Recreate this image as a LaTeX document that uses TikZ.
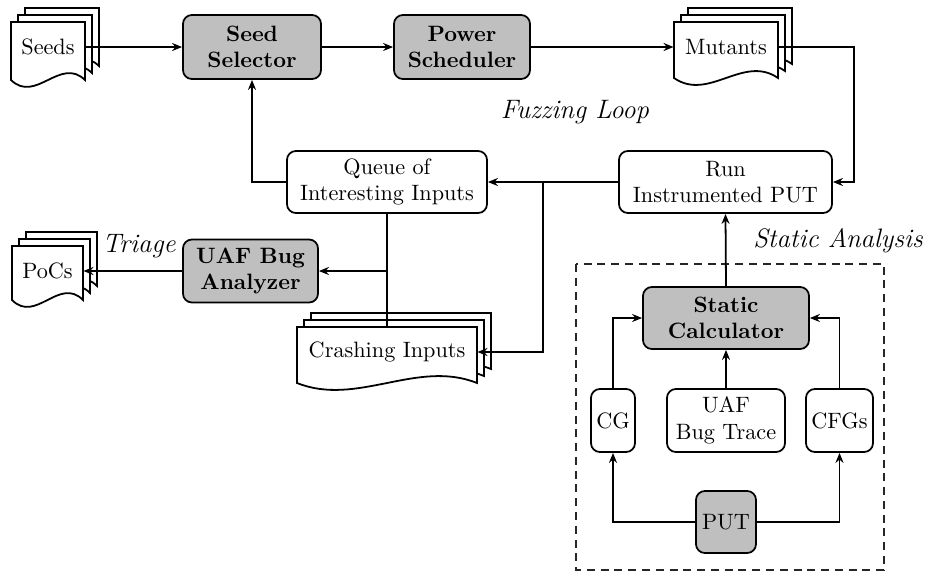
\documentclass[tikz,border=0pt]{standalone}
\usetikzlibrary{arrows.meta}
\newcommand\pxu{0.45pt}
% one page of a document stack: left, top, width, height (px units)
\newcommand\docpage[4]{%
  \filldraw[pageline] ({#1},{#2}) -- ({#1+#3},{#2}) -- ({#1+#3},{#2+#4})
    .. controls ({#1+#3*2/3},{#2+#4-24}) and ({#1+#3/3},{#2+#4+24}) .. ({#1},{#2+#4}) -- cycle;}
\newcommand\docstack[4]{%
  \docpage{#1+14}{#2-14}{#3}{#4}%
  \docpage{#1+7}{#2-7}{#3}{#4}%
  \docpage{#1}{#2}{#3}{#4}}
\tikzset{
  pageline/.style={draw=black, fill=white, line width=0.8pt},
  box/.style={draw, line width=0.8pt, rounded corners=4pt, align=center,
    inner sep=2pt, fill=white},
  gbox/.style={box, fill=gray!50, font=\bfseries},
  doc/.style={inner sep=0pt, align=center, minimum height=50*\pxu},
  arr/.style={line width=0.8pt, -{Stealth[length=4.5pt,width=3.6pt]}},
  ln/.style={line width=0.8pt},
  lbl/.style={font=\itshape\large}
}
\begin{document}
\begin{tikzpicture}[x=\pxu, y=-\pxu]
\useasboundingbox (0,0) rectangle (928,572);

% document stacks
\docstack{11}{22}{74}{58}
\node[doc, minimum width=74*\pxu] (seeds) at (48,47) {Seeds};
\docstack{674}{22}{104}{56}
\node[doc, minimum width=104*\pxu] (mut) at (726,47) {Mutants};
\docstack{297}{327}{180}{56}
\node[doc, minimum width=180*\pxu] (crash) at (387,352) {Crashing Inputs};
\docstack{12}{246}{71}{54}
\node[doc, minimum width=71*\pxu] (pocs) at (47.5,271) {PoCs};

% fuzzing loop
\node[gbox, minimum width=138*\pxu, minimum height=64*\pxu] (sel) at (252,47) {Seed\\Selector};
\node[gbox, minimum width=136*\pxu, minimum height=64*\pxu] (pow) at (462,47) {Power\\Scheduler};
\node[box, minimum width=213*\pxu, minimum height=62*\pxu] (run) at (725.5,182) {Run\\Instrumented PUT};
\node[box, minimum width=200*\pxu, minimum height=62*\pxu] (queue) at (387,182) {Queue of\\Interesting Inputs};
\node[gbox, minimum width=135*\pxu, minimum height=63*\pxu] (uaf) at (250.5,271) {UAF Bug\\Analyzer};

% static analysis
\draw[line width=0.5pt, black!85, dash pattern=on 3.6pt off 2.6pt] (576,264) rectangle (884,570);
\node[gbox, minimum width=166*\pxu, minimum height=62*\pxu] (calc) at (726,318) {Static\\Calculator};
\node[box, minimum width=44*\pxu, minimum height=63*\pxu] (cg) at (613,420.5) {CG};
\node[box, minimum width=118*\pxu, minimum height=63*\pxu] (trace) at (726,420.5) {UAF\\Bug Trace};
\node[box, minimum width=67*\pxu, minimum height=63*\pxu] (cfg) at (839.5,420.5) {CFGs};
\node[box, fill=gray!50, minimum width=60*\pxu, minimum height=62*\pxu] (put) at (726,522) {PUT};

% labels
\node[lbl] (fl) at (575,112) {Fuzzing Loop};
\node[lbl] (sa) at (838,241) {Static Analysis};
\node[lbl] (tr) at (139,246) {Triage};

% connectors
\coordinate (mturn) at (854,182);
\coordinate (split) at (543,182);
\coordinate (branch) at (387,271);
\draw[arr] (seeds.east) -- (sel.west);
\draw[arr] (sel.east) -- (pow.west);
\draw[arr] (pow.east) -- (mut.west);
\draw[arr] (mut.east) -| (mturn) -- (run.east);
\draw[arr] (run.west) -- (queue.east);
\draw[arr] (split) |- (crash.east);
\draw[arr] (queue.west) -| (sel.south);
\draw[ln] (queue.south) -- (queue.south |- crash.north);
\draw[arr] (branch) -- (uaf.east);
\draw[arr] (uaf.west) -- (pocs.east);
\draw[arr] (calc.north) -- (run.south);
\draw[arr] (cg.north) |- (calc.west);
\draw[arr] (cfg.north) |- (calc.east);
\draw[arr] (trace.north) -- (calc.south);
\draw[arr] (put.west) -| (cg.south);
\draw[arr] (put.east) -| (cfg.south);
\end{tikzpicture}
\end{document}
